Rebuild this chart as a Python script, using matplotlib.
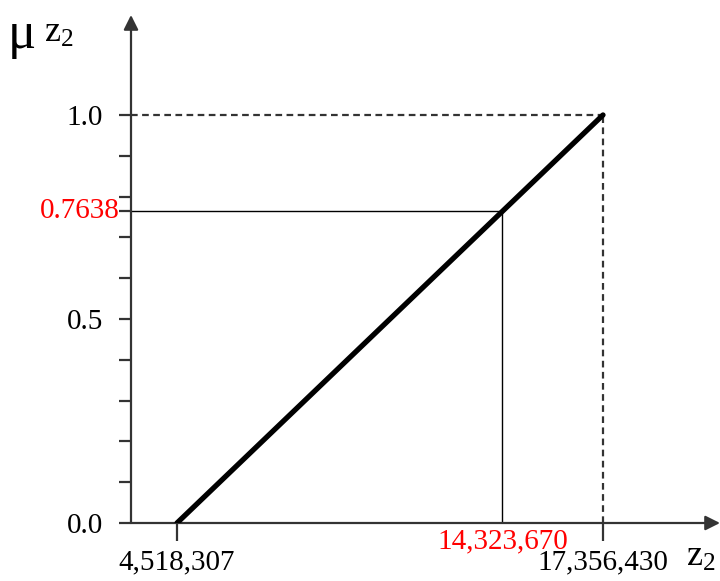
import matplotlib.pyplot as plt
import numpy as np

# membership function of z2
z_vals = [4518307, 14323670, 17356430]
mu_vals = [0.0, 0.7638, 1.0]
z_labels = ["4,518,307", "14,323,670", "17,356,430"]
y_ticks = np.round(np.arange(0, 1.01, 0.1), 1)
y_labels = {0.0: "0.0", 0.5: "0.5", 1.0: "1.0"}

plt.rcParams["font.family"] = ["Liberation Serif", "DejaVu Serif"]
plt.rcParams["mathtext.fontset"] = "custom"
plt.rcParams["mathtext.rm"] = "Liberation Serif"

axis_col = "#333333"
fs = 21

fig = plt.figure(figsize=(7.2, 5.81), dpi=100)
ax = fig.add_axes([131 / 720, 58 / 581, 589 / 720, 508 / 581])

x0, x1 = 3132051, 20882342
px = (x1 - x0) / 589
ax.set_xlim(x0, x1)
ax.set_ylim(0, 1.245)
for s in ax.spines.values():
    s.set_visible(False)

# axes with arrows
ax.annotate("", xy=(x1, 0), xytext=(x0, 0), annotation_clip=False,
            arrowprops=dict(arrowstyle="-|>", mutation_scale=22, lw=1.6,
                            color=axis_col, shrinkA=0, shrinkB=0))
ax.annotate("", xy=(x0, 1.245), xytext=(x0, 0), annotation_clip=False,
            arrowprops=dict(arrowstyle="-|>", mutation_scale=22, lw=1.6,
                            color=axis_col, shrinkA=0, shrinkB=0))

# membership line
ax.plot([z_vals[0], z_vals[2]], [mu_vals[0], mu_vals[2]], color="black",
        lw=3.8, solid_capstyle="round", zorder=3)

# dashed guides to (17,356,430, 1.0)
ax.plot([x0, z_vals[2]], [mu_vals[2], mu_vals[2]], color=axis_col, lw=1.6,
        linestyle=(0, (3, 2)))
ax.plot([z_vals[2], z_vals[2]], [0, mu_vals[2]], color=axis_col, lw=1.6,
        linestyle=(0, (3, 2)))

# solid guides to (14,323,670, 0.7638)
ax.plot([x0, z_vals[1]], [mu_vals[1], mu_vals[1]], color="black", lw=1.0)
ax.plot([z_vals[1], z_vals[1]], [0, mu_vals[1]], color="black", lw=1.0)

# y ticks
ax.set_yticks(list(y_ticks) + [mu_vals[1]])
ax.set_yticklabels([y_labels.get(t, "") for t in y_ticks] + [""])
ax.tick_params(axis="y", direction="out", length=9, width=1.6, color=axis_col,
               labelsize=fs, pad=11)
ax.text(x0 - 11 * px, mu_vals[1], "0.7638", color="red", fontsize=fs,
        ha="right", va="center")

# x ticks
ax.set_xticks([z_vals[0], z_vals[2]])
ax.set_xticklabels([z_labels[0], z_labels[2]])
ax.tick_params(axis="x", direction="out", length=13, width=1.6, color=axis_col,
               labelsize=fs, pad=6)
ax.annotate(z_labels[1], xy=(z_vals[1], 0), xytext=(0, -4),
            textcoords="offset points", ha="center", va="top",
            color="red", fontsize=fs, annotation_clip=False)

# axis names
fig.text(8 / 720, 1 - 48 / 581, "\u03bc", fontsize=38, ha="left", va="baseline")
fig.text(44 / 720, 1 - 42 / 581, r"$\mathrm{z_2}$", fontsize=26, ha="left",
         va="baseline")
fig.text(686 / 720, 1 - 566 / 581, r"$\mathrm{z_2}$", fontsize=26, ha="left",
         va="baseline")

plt.savefig("out.png", dpi=100)
